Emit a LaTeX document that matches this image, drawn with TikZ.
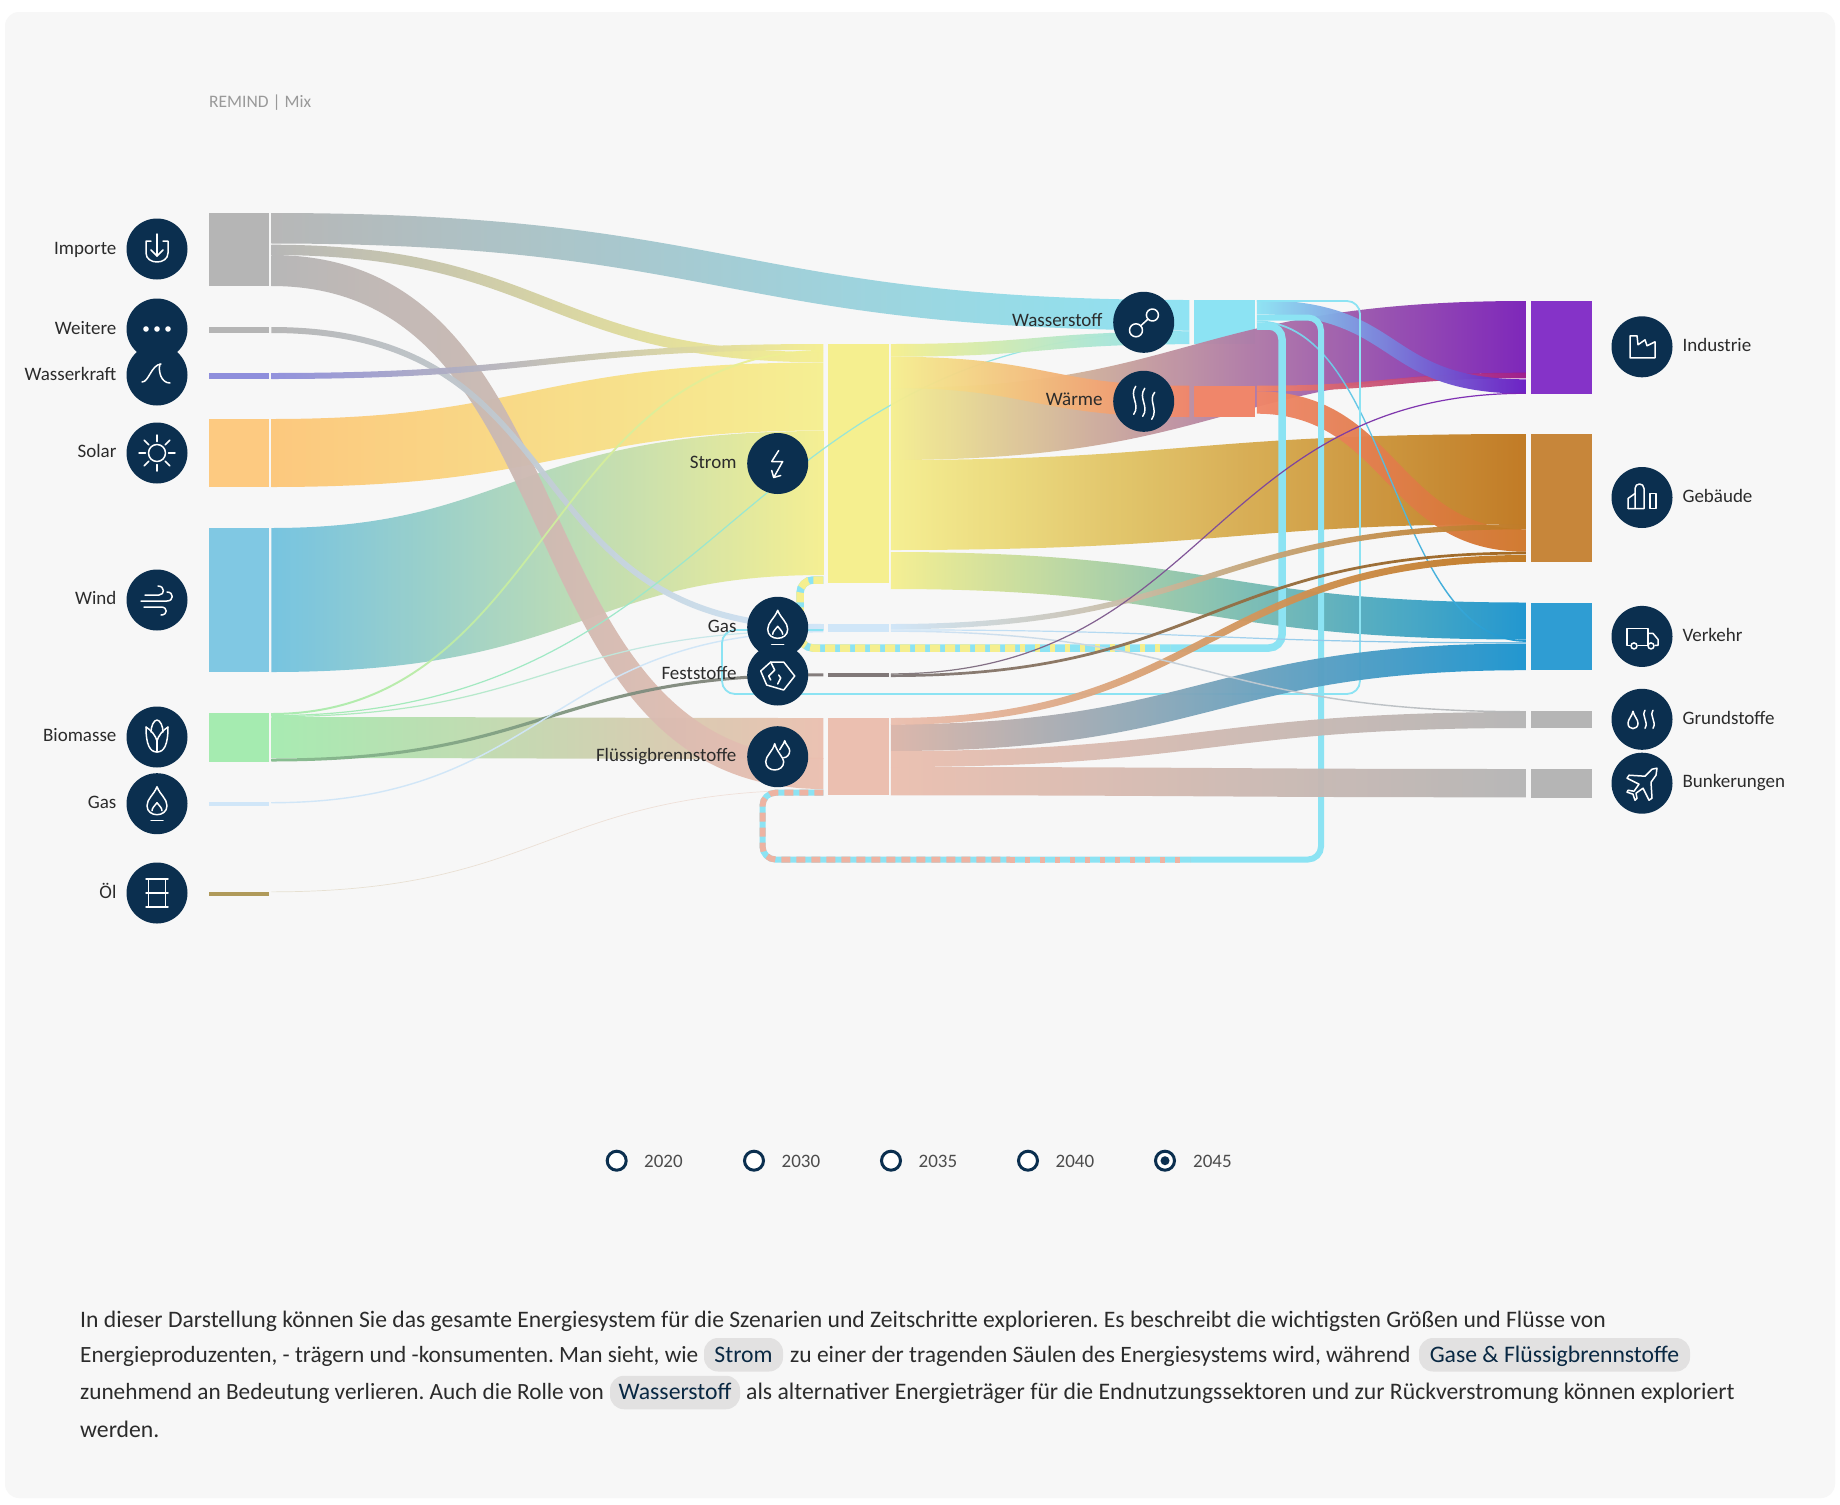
\documentclass[tikz,border=0pt]{standalone}
\usepackage{fontspec}
\setmainfont{Carlito}
\usepackage{xcolor}
\usetikzlibrary{calc}
\definecolor{panel}{HTML}{F7F7F7}
\definecolor{navy}{HTML}{0B2F4F}
\definecolor{ink}{HTML}{2B2B2B}
\definecolor{pill}{HTML}{E2E1E1}
\definecolor{greyc}{HTML}{B5B5B5}
\definecolor{hydro}{HTML}{8E8EDC}
\definecolor{solarc}{HTML}{FDC77A}
\definecolor{windc}{HTML}{72C2E0}
\definecolor{bioc}{HTML}{A5EBB0}
\definecolor{gasc}{HTML}{D0E6F8}
\definecolor{oilc}{HTML}{B09A5A}
\definecolor{stromc}{HTML}{F5EF8F}
\definecolor{hydrogen}{HTML}{8CE3F3}
\definecolor{heatc}{HTML}{F0866A}
\definecolor{heatend}{HTML}{D0762A}
\definecolor{liquidc}{HTML}{EBBFB0}
\definecolor{stripec}{HTML}{EDB3A2}
\definecolor{solidc}{HTML}{807878}
\definecolor{indc}{HTML}{7A1FB8}
\definecolor{indbar}{HTML}{8533C8}
\definecolor{bldc}{HTML}{BF771E}
\definecolor{bldbar}{HTML}{C7863A}
\definecolor{trac}{HTML}{1A94CF}
\definecolor{trabar}{HTML}{2F9DD3}
\tikzset{
  barbox/.style={rectangle,inner sep=0pt,outer sep=0pt,minimum width=60.6pt,anchor=north west},
  flowband/.style={fill opacity=0.96},
  hub/.style={circle,fill=navy,inner sep=0pt,minimum size=61pt},
  lbl/.style={text=ink,inner sep=0pt,font=\fontsize{19}{22}\selectfont},
  iconline/.style={draw=white,line width=1.5pt,line cap=round,line join=round},
  bodytxt/.style={text=ink,inner sep=0pt,anchor=base west,font=\fontsize{#1}{27}\selectfont},
  pilltxt/.style={draw=none,fill=pill,text=navy!85!black,rounded corners=14pt,inner sep=0pt,
    text height=24pt,text depth=9.5pt,font=\fontsize{23.7}{27}\selectfont},
  radio/.style={circle,draw=navy,line width=3pt,fill=white,inner sep=0pt,minimum size=19pt},
  yearlbl/.style={text=black!70,inner sep=0pt,anchor=base west,font=\fontsize{19}{22}\selectfont},
  loopthick/.style={line width=#1,rounded corners=13pt,draw=hydrogen},
}
\newcommand{\Flow}[8][0.5]{%
  \shade[flowband,left color=#7,right color=#8]
    let \p1=($(#2.north east)+(2.2,#3)$), \p2=($(#4.north west)+(-4.7,#5)$),
        \n1={#6*1pt}, \n2={ifthenelse(\y2<\y1,1,-1)*#6*0.25pt},
        \n3={\x1+(\x2-\x1)*#1}, \n4={\x2-(\x2-\x1)*#1}
    in (\x1,\y1) .. controls (\n3+\n2,\y1) and (\n4+\n2,\y2) .. (\x2,\y2)
       -- (\x2,\y2-\n1) .. controls (\n4-\n2,\y2-\n1) and (\n3-\n2,\y1-\n1) .. (\x1,\y1-\n1) -- cycle;}
\newcommand{\Icon}[2]{\begin{scope}[shift={(#1)},iconline]#2\end{scope}}
\newcommand{\FlameGlyph}{%
  \draw (0,-17) .. controls (-3,-9) and (-10,-5) .. (-10,2) .. controls (-10,14) and (10,14) .. (10,2) .. controls (10,-5) and (3,-9) .. (0,-17) -- cycle;
  \draw (0,-1) .. controls (-2,2) and (-5,4) .. (-5,7) (5,7) .. controls (5,4) and (2,2) .. (0,-1);
  \draw (-6,17) -- (6,17);}
\begin{document}
\frenchspacing
\begin{tikzpicture}[x=1pt,y=-1pt]
  \useasboundingbox (0,0) rectangle (1840,1505);
  \fill[white] (0,0) rectangle (1840,1505);
  \fill[panel,rounded corners=14pt] (5,12) rectangle (1835,1498);

  \node[lbl,anchor=base west,text=black!40,font=\fontsize{17.5}{20}\selectfont] (chartTitle) at (209,107) {REMIND | Mix};

  % columns
  \node[barbox,fill=greyc,minimum height=73pt] (srcImporte) at (208.5,213) {};
  \node[barbox,fill=greyc,minimum height=6pt] (srcWeitere) at (208.5,327) {};
  \node[barbox,fill=hydro,minimum height=6pt] (srcWasser) at (208.5,373) {};
  \node[barbox,fill=solarc!95!white,minimum height=68pt] (srcSolar) at (208.5,419) {};
  \node[barbox,fill=windc!90!white,minimum height=144pt] (srcWind) at (208.5,528) {};
  \node[barbox,fill=bioc,minimum height=48.5pt] (srcBio) at (208.5,713) {};
  \node[barbox,fill=gasc,minimum height=4pt] (srcGas) at (208.5,802) {};
  \node[barbox,fill=oilc,minimum height=4.5pt] (srcOil) at (208.5,891.5) {};

  \node[barbox,fill=stromc,minimum height=239pt] (midStrom) at (828,344) {};
  \node[barbox,fill=gasc,minimum height=8.3pt] (midGas) at (828,624) {};
  \node[barbox,fill=solidc,minimum height=3.7pt] (midFest) at (828,673.3) {};
  \node[barbox,fill=liquidc,minimum height=77.3pt] (midFluessig) at (828,718) {};
  \node[barbox,fill=hydrogen,minimum height=44.3pt] (midHyd) at (1194,300) {};
  \node[barbox,fill=heatc,minimum height=31.3pt] (midHeat) at (1194,385.7) {};

  \node[barbox,fill=indbar,minimum height=92.6pt,minimum width=61pt] (dstInd) at (1530.5,301) {};
  \node[barbox,fill=bldbar,minimum height=127.8pt,minimum width=61pt] (dstBld) at (1530.5,434) {};
  \node[barbox,fill=trabar,minimum height=67.9pt,minimum width=61pt] (dstTra) at (1530.5,602.5) {};
  \node[barbox,fill=greyc,minimum height=17pt,minimum width=61pt] (dstGrund) at (1530.5,711) {};
  \node[barbox,fill=greyc,minimum height=28.5pt,minimum width=61pt] (dstBunk) at (1530.5,769) {};

  % flows
  \Flow{srcBio}{4}{midFluessig}{0}{41}{bioc}{liquidc}
  \Flow{srcSolar}{0}{midStrom}{18.5}{68}{solarc}{stromc}
  \Flow{srcWind}{0}{midStrom}{87}{144}{windc}{stromc}
  \Flow{srcImporte}{0}{midHyd}{0}{30.5}{greyc}{hydrogen}
  \Flow{srcImporte}{31.7}{midStrom}{8}{10.3}{greyc}{stromc}
  \Flow[0.58]{srcImporte}{42}{midFluessig}{40}{31}{greyc}{liquidc}
  \Flow[0.58]{srcWeitere}{0}{midGas}{0}{6}{greyc}{gasc}
  \Flow{srcWasser}{0}{midStrom}{0}{6}{hydro}{stromc}
  \Flow{srcBio}{0}{midStrom}{6}{2}{bioc}{stromc}
  \Flow{srcBio}{2}{midHyd}{30.5}{1.2}{bioc}{hydrogen}
  \Flow{srcBio}{3}{midGas}{6}{1.2}{bioc}{gasc}
  \Flow{srcBio}{45.5}{midFest}{0}{3}{bioc!80!black}{solidc}
  \Flow{srcGas}{0}{midGas}{7}{1.4}{gasc}{gasc}
  \Flow{srcOil}{0}{midFluessig}{71.5}{0.7}{oilc!25!panel}{liquidc!40!panel}

  \Flow{midStrom}{0}{midHyd}{31.5}{12.7}{stromc}{hydrogen}
  \Flow{midStrom}{44}{dstInd}{0}{72}{stromc}{indc}
  \Flow{midStrom}{12.7}{midHeat}{0}{31.3}{stromc}{heatc}
  \Flow{midStrom}{116}{dstBld}{0}{90}{stromc}{bldc}
  \Flow{midStrom}{208}{dstTra}{0}{37}{stromc}{trac}
  \fill[heatc] (midHeat.north west) rectangle (midHeat.south east);

  \Flow{midHeat}{5.6}{dstBld}{95.3}{22.4}{heatc}{heatend}
  \Flow{midHeat}{0}{dstInd}{71.7}{5.6}{heatc}{indc!75!red}
  \Flow[0.55]{midHyd}{0}{dstInd}{78.3}{14.3}{hydrogen}{indc!85!blue}
  \Flow{midHyd}{20.5}{dstTra}{37.5}{1.8}{hydrogen}{trac}

  % loops
  \coordinate (hydOutA) at ($(midHyd.north east)+(2.2,26)$);
  \coordinate (hydOutB) at ($(midHyd.north east)+(2.2,17.5)$);
  \coordinate (hydOutC) at ($(midHyd.north east)+(2.2,1)$);
  \coordinate (stromIn) at ($(midStrom.south west)+(-4.7,-3)$);
  \coordinate (fluessigIn) at ($(midFluessig.south west)+(-4.7,-2.6)$);
  \coordinate (gasIn) at ($(midGas.north west)+(-4.7,6)$);
  \draw[loopthick=7.5pt] (hydOutA) -| (1282,648) -- (800,648) |- (stromIn);
  \draw[loopthick=7.5pt,draw=stromc,dash pattern=on 10pt off 5pt] (stromIn) -| (800,648) -- (1020,648);
  \draw[loopthick=7.5pt,draw=stromc,dash pattern=on 5pt off 10pt] (1020,648) -- (1170,648);
  \draw[loopthick=6pt] (hydOutB) -| (1321,859.5) -- (762.5,859.5) |- (fluessigIn);
  \draw[loopthick=6pt,draw=stripec,dash pattern=on 9pt off 6pt] (fluessigIn) -| (762.5,859.5) -- (1010,859.5);
  \draw[loopthick=6pt,draw=stripec,dash pattern=on 5pt off 10pt] (1010,859.5) -- (1190,859.5);
  \draw[loopthick=1.8pt] (hydOutC) -| (1360,694) -- (722,694) |- (gasIn);

  \Flow{midFluessig}{6.3}{dstTra}{41}{26.7}{liquidc!85!gray}{trac}
  \Flow{midFluessig}{33}{dstGrund}{1}{16}{liquidc}{greyc}
  \Flow{midFluessig}{49}{dstBunk}{0}{28.3}{liquidc}{greyc}
  \Flow{midFluessig}{0}{dstBld}{121}{6.8}{liquidc}{bldc}
  \Flow{midGas}{0}{dstBld}{90}{5.3}{gasc}{bldc}
  \Flow{midGas}{5.3}{dstTra}{39.7}{1.2}{gasc}{trac!50!gasc}
  \Flow{midGas}{6.5}{dstGrund}{0}{1.4}{gasc}{greyc}
  \Flow{midFest}{0}{dstInd}{91.7}{1.2}{solidc}{indc}
  \Flow{midFest}{1}{dstBld}{117.7}{2.7}{solidc}{bldc!85!black}

  % circles
  \node[hub] (hubImporte) at (157,249) {};
  \node[hub] (hubWeitere) at (157,329) {};
  \node[hub] (hubWasser) at (157,375) {};
  \node[hub] (hubSolar) at (157,453) {};
  \node[hub] (hubWind) at (157,600) {};
  \node[hub] (hubBio) at (157,737) {};
  \node[hub] (hubGasA) at (157,803.7) {};
  \node[hub] (hubOil) at (157,893) {};
  \node[hub] (hubStrom) at (777.7,463.5) {};
  \node[hub] (hubGasB) at (777.7,627.3) {};
  \node[hub] (hubFest) at (777.7,675) {};
  \node[hub] (hubFluessig) at (777.7,756.7) {};
  \node[hub] (hubHyd) at (1143.7,322.3) {};
  \node[hub] (hubHeat) at (1143.7,401.3) {};
  \node[hub] (hubInd) at (1642,346.8) {};
  \node[hub] (hubBld) at (1642,497.5) {};
  \node[hub] (hubTra) at (1642,636.4) {};
  \node[hub] (hubGrund) at (1642,719.3) {};
  \node[hub] (hubBunk) at (1642,783.2) {};

  % labels
  \node[lbl,anchor=base east] (lblImporte) at (116.6,254) {Importe};
  \node[lbl,anchor=base east] (lblWeitere) at (116.6,334) {Weitere};
  \node[lbl,anchor=base east] (lblWasser) at (116.6,380) {Wasserkraft};
  \node[lbl,anchor=base east] (lblSolar) at (116.6,457.5) {Solar};
  \node[lbl,anchor=base east] (lblWind) at (116.6,604) {Wind};
  \node[lbl,anchor=base east] (lblBio) at (116.6,741.5) {Biomasse};
  \node[lbl,anchor=base east] (lblGasA) at (116.6,808.5) {Gas};
  \node[lbl,anchor=base east] (lblOil) at (116.6,898) {Öl};
  \node[lbl,anchor=base east] (lblStrom) at (736.7,468) {Strom};
  \node[lbl,anchor=base east] (lblGasB) at (736.7,632) {Gas};
  \node[lbl,anchor=base east] (lblFest) at (736.7,679) {Feststoffe};
  \node[lbl,anchor=base east] (lblFluessig) at (736.7,761.5) {Flüssigbrennstoffe};
  \node[lbl,anchor=base east] (lblHyd) at (1102.7,326) {Wasserstoff};
  \node[lbl,anchor=base east] (lblHeat) at (1102.7,405.5) {Wärme};
  \node[lbl,anchor=base west] (lblInd) at (1682.3,351.5) {Industrie};
  \node[lbl,anchor=base west] (lblBld) at (1682.3,502.3) {Gebäude};
  \node[lbl,anchor=base west] (lblTra) at (1682.3,641.2) {Verkehr};
  \node[lbl,anchor=base west] (lblGrund) at (1682.3,724) {Grundstoffe};
  \node[lbl,anchor=base west] (lblBunk) at (1682.3,787.2) {Bunkerungen};

  % icons
  \Icon{hubImporte}{
    \draw (-6,-8) -- (-11,-8) -- (-11,4) .. controls (-11,16) and (11,16) .. (11,4) -- (11,-8) -- (6,-8);
    \draw (0,-15) -- (0,7);
    \draw (-6,1) -- (0,7) -- (6,1);}
  \Icon{hubWeitere}{
    \fill[white] (-11,0) circle (2.8);
    \fill[white] (0,0) circle (2.8);
    \fill[white] (11,0) circle (2.8);}
  \Icon{hubWasser}{
    \draw (-15,7) .. controls (-8,7) and (-6,-10) .. (4,-11);
    \draw (3,-11) .. controls (1,-4) and (4,8) .. (13,8);}
  \Icon{hubSolar}{
    \draw (0,0) circle (8.5);
    \foreach \a in {0,45,...,315} \draw (\a:11.5) -- (\a:18);}
  \Icon{hubWind}{
    \draw (-12,-5) -- (2,-5) .. controls (8,-5) and (8,-14) .. (1,-14);
    \draw (-16,1) -- (10,1) .. controls (17,1) and (17,-8) .. (10,-8);
    \draw (-13,7) -- (4,7) .. controls (11,7) and (11,15) .. (4,15);}
  \Icon{hubBio}{
    \draw (-11,-10) .. controls (-11,8) and (-7,15) .. (0,15) .. controls (7,15) and (11,8) .. (11,-10);
    \draw (-11,-10) .. controls (-6,-7) and (-1,-1) .. (0,4) .. controls (1,-1) and (6,-7) .. (11,-10);
    \draw (-6,-5) .. controls (-6,-11) and (-3,-17) .. (0,-17) .. controls (3,-17) and (6,-11) .. (6,-5);
    \draw (0,4) -- (0,15);}
  \Icon{hubGasA}{\FlameGlyph}
  \Icon{hubOil}{
    \draw (-11,-14) -- (11,-14);
    \draw (-11,14) -- (11,14);
    \draw (-11,0) -- (11,0);
    \draw (-8.5,-14) -- (-8.5,14);
    \draw (8.5,-14) -- (8.5,14);}
  \Icon{hubStrom}{
    \draw (1,-13) -- (-6,-2) -- (5,-2) -- (-4,14);
    \draw (-6,7) -- (-4,14) -- (3,12);}
  \Icon{hubGasB}{\FlameGlyph}
  \Icon{hubFest}{
    \draw (-17,-4) -- (-7,-13) -- (6,-13) -- (17,1) -- (6,15) -- (-11,10) -- cycle;
    \draw (-7,-13) -- (-3,-5) -- (-9,1) -- (-7,5);
    \draw (0,9) -- (3,3) -- (1,0);}
  \Icon{hubFluessig}{
    \draw (-3,-13) .. controls (-5,-5) and (-12,-1) .. (-12,5) .. controls (-12,16) and (6,16) .. (6,5) .. controls (6,1) and (-1,-5) .. (-3,-13) -- cycle;
    \draw (2,-7) .. controls (3,-10) and (6,-12) .. (7,-16) .. controls (8,-12) and (12,-9) .. (12,-6) .. controls (12,-2) and (9,1) .. (6,1);}
  \Icon{hubHyd}{
    \draw (-7.7,8) circle (6.5);
    \draw (8.7,-7.3) circle (6);
    \draw (-3,3.5) -- (4.3,-3.2);}
  \Icon{hubHeat}{
    \draw (-8,-15) .. controls (-15,-5) and (-3,3) .. (-10,13);
    \draw (1,-13) .. controls (-6,-3) and (6,5) .. (-1,15);
    \draw (11,-9) .. controls (4,-1) and (15,8) .. (8,18);}
  \Icon{hubInd}{
    \draw (-12,-11) -- (-5,-11) -- (-4,-2) -- (3,-7) -- (5,-1) -- (13,-5) -- (13,11) -- (-12,11) -- cycle;}
  \Icon{hubBld}{
    \draw (-14,11) -- (-14,1) -- (-7,-4);
    \draw (-14,11) -- (2,11) -- (2,-9) .. controls (2,-15) and (-7,-15) .. (-7,-9) -- (-7,11);
    \draw (8,-4) rectangle (14,11);}
  \Icon{hubTra}{
    \draw (-12,9) -- (-15,9) -- (-15,-8) -- (6,-8) -- (6,9) -- (-4,9);
    \draw (6,-3) -- (11,-3) -- (16,3) -- (16,9) -- (13,9);
    \draw (-8,9.5) circle (3);
    \draw (9,9.5) circle (3);}
  \Icon{hubGrund}{
    \draw (-9,-8) .. controls (-10,-3) and (-14,0) .. (-14,4) .. controls (-14,11) and (-4,11) .. (-4,4) .. controls (-4,0) and (-8,-3) .. (-9,-8) -- cycle;
    \draw (3,-9) .. controls (-1,-3) and (7,2) .. (3,9);
    \draw (11,-9) .. controls (7,-3) and (15,2) .. (11,9);}
  \Icon{hubBunk}{
    \draw (15,-15) -- (10,-14) -- (3,-7) -- (-13,-8) -- (-15,-5) -- (-3,1) -- (-8,8) -- (-14,7) -- (-15,9) -- (-9,11) -- (-7,17) -- (-5,15) -- (-6,10) -- (1,5) -- (7,17) -- (10,15) -- (9,-1) -- (14,-8) -- cycle;}

  % year selector
  \node[radio] (yr2020) at (616.7,1160.7) {};
  \node[radio] (yr2030) at (754,1160.7) {};
  \node[radio] (yr2035) at (891,1160.7) {};
  \node[radio] (yr2040) at (1028,1160.7) {};
  \node[radio] (yr2045) at (1165,1160.7) {};
  \fill[navy] (yr2045) circle (4.5);
  \node[yearlbl] (lbl2020) at (644,1167) {2020};
  \node[yearlbl] (lbl2030) at (781.5,1167) {2030};
  \node[yearlbl] (lbl2035) at (918.5,1167) {2035};
  \node[yearlbl] (lbl2040) at (1055.5,1167) {2040};
  \node[yearlbl] (lbl2045) at (1193,1167) {2045};

  % text below
  \node[pilltxt,minimum width=79pt] (pillStrom) at (743.5,1354.75) {Strom};
  \node[pilltxt,minimum width=271pt] (pillGase) at (1554.5,1354.75) {Gase \& Flüssigbrennstoffe};
  \node[pilltxt,minimum width=130pt] (pillHyd) at (675,1392.5) {Wasserstoff};
  \node[bodytxt=23.63] (lineA) at (80,1327) {In dieser Darstellung können Sie das gesamte Energiesystem für die Szenarien und Zeitschritte explorieren. Es beschreibt die wichtigsten Größen und Flüsse von};
  \node[bodytxt=23.3] (lineB) at (80,1362) {Energieproduzenten, - trägern und -konsumenten. Man sieht, wie};
  \node[bodytxt=23.5] (lineBb) at (790,1362) {zu einer der tragenden Säulen des Energiesystems wird, während};
  \node[bodytxt=23.27] (lineC) at (80,1399) {zunehmend an Bedeutung verlieren. Auch die Rolle von};
  \node[bodytxt=23.7] (lineCb) at (746,1399) {als alternativer Energieträger für die Endnutzungssektoren und zur Rückverstromung können exploriert};
  \node[bodytxt=23.7] (lineD) at (80,1437) {werden.};
\end{tikzpicture}
\end{document}
